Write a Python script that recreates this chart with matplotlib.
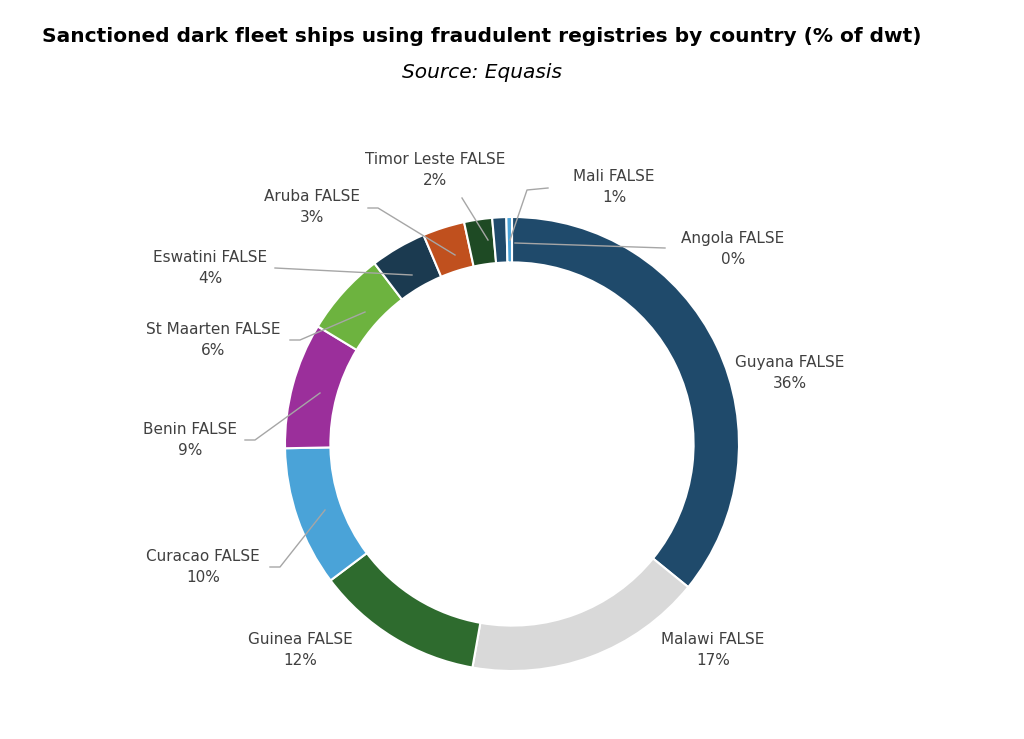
import matplotlib
matplotlib.use("Agg")
import matplotlib.pyplot as plt

countries = ["Guyana", "Malawi", "Guinea", "Curacao", "Benin", "St Maarten",
             "Eswatini", "Aruba", "Timor Leste", "Mali", "Angola"]
values = [36, 17, 12, 10, 9, 6, 4, 3, 2, 1, 0.4]
pct_labels = ["36%", "17%", "12%", "10%", "9%", "6%", "4%", "3%", "2%", "1%", "0%"]
colors = ["#1F4A6B", "#D9D9D9", "#2E6B2E", "#4AA3D8", "#9B2F9B", "#6DB33F",
          "#1B3A50", "#C0501E", "#1E4A24", "#1F4A6B", "#4AA3D8"]

label_px = {"Guyana": (790, 373), "Malawi": (713, 650), "Guinea": (300, 650),
            "Curacao": (203, 567), "Benin": (190, 440), "St Maarten": (213, 340),
            "Eswatini": (210, 268), "Aruba": (312, 207), "Timor Leste": (435, 170),
            "Mali": (614, 187), "Angola": (733, 249)}
leaders = {"Timor Leste": [(462, 198), (488, 240)],
           "Mali": [(548, 188), (527, 190), (510, 240)],
           "Angola": [(665, 248), (515, 243)],
           "Aruba": [(368, 208), (378, 208), (455, 255)],
           "Eswatini": [(275, 268), (412, 275)],
           "St Maarten": [(290, 340), (300, 340), (365, 312)],
           "Benin": [(245, 440), (255, 440), (320, 393)],
           "Curacao": [(270, 567), (280, 567), (325, 510)]}

W, H = 1024, 739
CX, CY, R = 512, 444, 227
def d(p):
    return ((p[0] - CX) / R, (CY - p[1]) / R)

fig = plt.figure(figsize=(W / 100, H / 100), dpi=100)
ax = fig.add_axes([0, 0, 1, 1])

ax.pie(values, colors=colors, startangle=90, counterclock=False, radius=1,
       wedgeprops=dict(width=0.2, edgecolor="white", linewidth=1.5))
ax.set_aspect("auto")
ax.set_xlim(-CX / R, (W - CX) / R)
ax.set_ylim(-(H - CY) / R, CY / R)
ax.axis("off")

for c, p in zip(countries, pct_labels):
    x, y = d(label_px[c])
    ax.text(x, y, f"{c} FALSE\n{p}", ha="center", va="center", fontsize=11,
            color="#404040", linespacing=1.5)
for c, pts in leaders.items():
    xs, ys = zip(*[d(p) for p in pts])
    ax.plot(xs, ys, color="#A6A6A6", lw=1)

fig.text(482 / W, 1 - 37 / H, "Sanctioned dark fleet ships using fraudulent registries by country (% of dwt)",
         ha="center", va="center", fontsize=14.5, fontweight="bold", color="black")
fig.text(482 / W, 1 - 72 / H, "Source: Equasis", ha="center", va="center",
         fontsize=14.5, style="italic", color="black")

fig.savefig("out.png", dpi=100, facecolor="white")
